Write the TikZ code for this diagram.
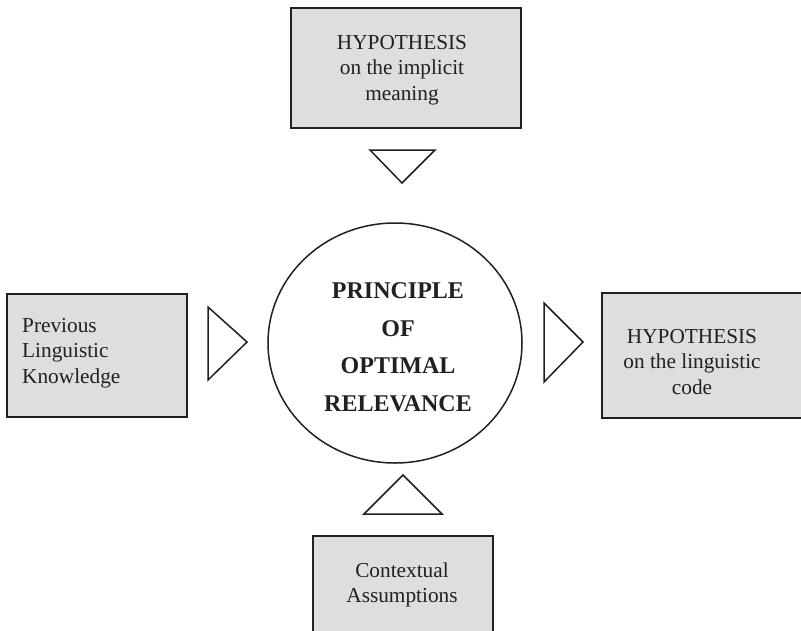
\documentclass[tikz,border=0pt]{standalone}
\usepackage{fontspec}
\setmainfont{Liberation Serif}
\usetikzlibrary{shapes.geometric}
\definecolor{boxfill}{RGB}{221,222,224}
\definecolor{ink}{RGB}{35,31,32}
\begin{document}
\begin{tikzpicture}[x=1pt,y=-1pt,
  box/.style={draw=ink, line width=1.8pt, fill=boxfill, inner sep=0pt},
  txt/.style={font=\fontsize{21.3}{25.5}\selectfont, text=ink, align=center, inner sep=0pt},
  boldtxt/.style={font=\bfseries\fontsize{24}{37.5}\selectfont, text=ink, align=center, inner sep=0pt},
  tri/.style={draw=ink, line width=1.5pt, line join=miter, fill=white}]
\useasboundingbox (0,0) rectangle (801,630);
\clip (0,0) rectangle (801,630);
% boxes
\node[box, minimum width=230pt, minimum height=120pt] (topbox) at (406,68) {};
\node[box, minimum width=180pt, minimum height=123pt] (leftbox) at (97,355.5) {};
\node[box, minimum width=208pt, minimum height=125pt] (rightbox) at (706,355.5) {};
\node[box, minimum width=180pt, minimum height=104pt] (botbox) at (403,588) {};
% central ellipse
\node[draw=ink, line width=1.5pt, ellipse, minimum width=254pt, minimum height=240pt, inner sep=0pt] (prin) at (395,343) {};
% texts
\node[txt] (toptext) at (402,70) {HYPOTHESIS\\on the implicit\\meaning};
\node[txt, align=left, anchor=west] (lefttext) at (22,353) {Previous\\Linguistic\\Knowledge};
\node[txt] (righttext) at (692,362) {HYPOTHESIS\\on the linguistic\\code};
\node[txt] (bottext) at (402,585) {Contextual\\Assumptions};
\node[boldtxt] (prtext) at (398,347) {PRINCIPLE\\OF\\OPTIMAL\\RELEVANCE};
% triangles
\coordinate (t1a) at (370,150); \coordinate (t1b) at (435,150); \coordinate (t1c) at (402,183);
\coordinate (t2a) at (208,307); \coordinate (t2b) at (208,380); \coordinate (t2c) at (247,342);
\coordinate (t3a) at (544,303); \coordinate (t3b) at (544,382); \coordinate (t3c) at (583,342);
\coordinate (t4a) at (364,514); \coordinate (t4b) at (442,514); \coordinate (t4c) at (403,475);
\draw[tri] (t1a) -- (t1b) -- (t1c) -- cycle;
\draw[tri] (t2a) -- (t2b) -- (t2c) -- cycle;
\draw[tri] (t3a) -- (t3b) -- (t3c) -- cycle;
\draw[tri] (t4a) -- (t4b) -- (t4c) -- cycle;
\end{tikzpicture}
\end{document}
